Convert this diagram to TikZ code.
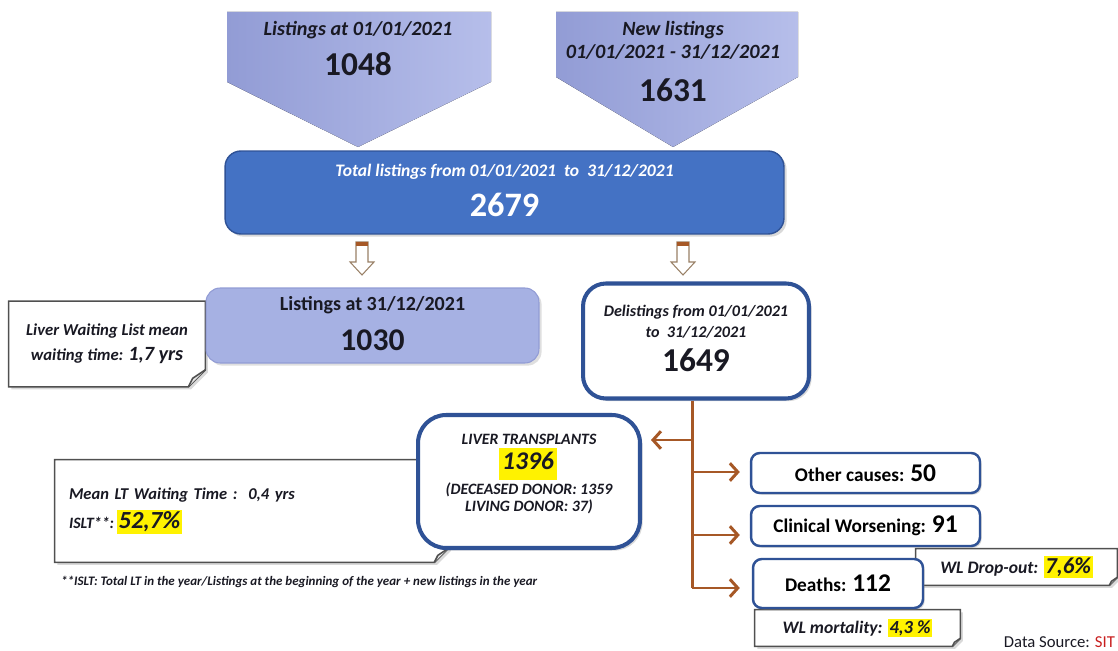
\documentclass[tikz,border=0pt]{standalone}
\usepackage{fontspec}
\setmainfont{Carlito}
\usetikzlibrary{arrows.meta,shadows,backgrounds}

\definecolor{ink}{RGB}{25,25,35}
\definecolor{lavA}{RGB}{146,156,213}
\definecolor{lavB}{RGB}{182,190,234}
\definecolor{listfill}{RGB}{166,177,227}
\definecolor{totalblue}{RGB}{68,114,196}
\definecolor{boxblue}{RGB}{47,82,150}
\definecolor{branchbrown}{RGB}{166,88,38}
\definecolor{notegray}{RGB}{80,80,80}
\definecolor{sitred}{RGB}{200,30,30}

\newcommand{\fsz}[1]{\fontsize{#1}{#1}\selectfont}
\newcommand{\hilite}[1]{{\setlength{\fboxsep}{1pt}\colorbox{yellow}{#1}}}
% outline of a note with a folded corner, drawn behind the node
\newcommand{\notefold}[2][0.3cm]{%
  \begin{pgfonlayer}{background}
    \draw[noteline, fill=white, drop shadow={shadow xshift=1.5pt, shadow yshift=-1.5pt, opacity=0.3}]
      (#2.north west) -- (#2.north east) -- ([yshift=#1]#2.south east)
      -- ([xshift=-#1]#2.south east) -- (#2.south west) -- cycle;
    \draw[noteline, fill=gray!20] ([yshift=#1]#2.south east)
      -- ([xshift=-0.75*#1, yshift=0.5*#1]#2.south east) -- ([xshift=-#1]#2.south east);
  \end{pgfonlayer}}

\tikzset{
  pentagon/.style={left color=lavA, right color=lavB},
  totalbox/.style={draw=boxblue, fill=totalblue, rounded corners=9pt, line width=0.8pt,
    drop shadow={shadow xshift=1.5pt, shadow yshift=-1.5pt, opacity=0.3}},
  listbox/.style={draw=lavA, fill=listfill, rounded corners=8pt, line width=0.6pt,
    drop shadow={shadow xshift=1.5pt, shadow yshift=-1.5pt, opacity=0.25}},
  bluebox/.style={draw=boxblue, fill=white, rounded corners=10pt, line width=2.3pt,
    drop shadow={shadow xshift=1.5pt, shadow yshift=-1.5pt, opacity=0.3}},
  causebox/.style={draw=boxblue, fill=white, rounded corners=5pt, line width=1.4pt,
    font=\bfseries\fsz{11}, drop shadow={shadow xshift=1pt, shadow yshift=-1pt, opacity=0.3}},
  notebox/.style={inner sep=0pt},
  noteline/.style={draw=notegray, line width=0.9pt},
  branch/.style={draw=branchbrown, line width=1.7pt},
  branchto/.style={branch, -{Straight Barb[length=4.5pt, width=10pt]}},
  hollow/.style={draw=gray!60!brown, fill=white, line width=0.6pt},
  label/.style={text=ink, font=\bfseries\itshape\fsz{#1}},
  number/.style={text=ink, font=\bfseries\fsz{#1}},
}

\begin{document}
\begin{tikzpicture}[x=0.02cm, y=-0.02cm]
\useasboundingbox (0,0) rectangle (1118,651);

% incoming listings
\fill[pentagon] (227,12) -- (491,12) -- (491,82) -- (358,147) -- (227,82) -- cycle;
\fill[pentagon] (556,12) -- (798,12) -- (798,77) -- (673,147) -- (556,77) -- cycle;
\node[label=11.5] (startlbl) at (358,30) {Listings at 01/01/2021};
\node[number=19] (startnum) at (358,64) {1048};
\node[label=11.5] (newlbl) at (673,30) {New listings};
\node[label=11.5] (newdates) at (673,52) {01/01/2021 - 31/12/2021};
\node[number=19] (newnum) at (673,90) {1631};

% total
\node[totalbox, minimum width=11.18cm, minimum height=1.66cm] (total) at (504.5,192.5) {};
\node[label=10, text=white] (totallbl) at (504.5,172) {Total listings from 01/01/2021\ \ to\ \ 31/12/2021};
\node[number=19.5, text=white] (totalnum) at (504.5,205) {2679};

\foreach \x in {362,683} {
  \draw[hollow] (\x-6,242) -- (\x+6,242) -- (\x+6,262) -- (\x+12,262) -- (\x,275)
    -- (\x-12,262) -- (\x-6,262) -- cycle;
  \fill[branchbrown] (\x-6,242) rectangle (\x+6,246);
}

% end of year
\node[notebox, minimum width=3.92cm, minimum height=1.7cm, align=center, text=ink,
  font=\bfseries\itshape\fontsize{9.5}{14.2}\selectfont] (waitnote) at (107,344)
  {Liver Waiting List mean\\waiting time: {\fsz{11.5}1,7 yrs}};
\notefold[0.34cm]{waitnote}
\node[listbox, minimum width=6.66cm, minimum height=1.5cm] (listend) at (372.5,325.5) {};
\node[text=ink, font=\bfseries\fsz{11.4}] (listendlbl) at (372.5,305) {Listings at 31/12/2021};
\node[number=18] (listendnum) at (372.5,340) {1030};

% delistings
\node[bluebox, rounded corners=13pt, minimum width=4.52cm, minimum height=2.3cm] (delist) at (696,341) {};
\node[label=9.2] (delistlbl) at (696,312) {Delistings from 01/01/2021};
\node[label=9.2] (delistdates) at (696,332) {to\ \ 31/12/2021};
\node[number=19] (delistnum) at (696,360) {1649};

% transplants
\node[notebox, minimum width=7.86cm, minimum height=2.04cm, text width=7.3cm, align=left, text=ink,
  font=\bfseries\itshape\fontsize{9.4}{16.4}\selectfont] (ltnote) at (251.5,511)
  {Mean LT Waiting Time :\ \ 0,4 yrs\\{\fsz{9}ISLT**:}\,{\fsz{14}\hilite{52,7\%}}};
\notefold[0.28cm]{ltnote}
\node[bluebox, rounded corners=16pt, minimum width=4.44cm, minimum height=2.66cm] (lt) at (529,481.5) {};
\node[label=9] (ltlbl) at (529,439) {LIVER TRANSPLANTS};
\node[label=14.5] (ltnum) at (528,464) {\setlength{\fboxsep}{2pt}\colorbox{yellow}{\strut 1396}};
\node[label=9] (ltdec) at (529,490) {(DECEASED DONOR: 1359};
\node[label=9] (ltliv) at (529,507) {LIVING DONOR: 37)};
\node[label=7.4, anchor=west] (footnote) at (55,582)
  {**ISLT: Total LT in the year/Listings at the beginning of the year + new listings in the year};

% causes
\node[notebox, minimum width=4.02cm, minimum height=0.72cm, label=10] (dropnote) at (1016.5,567)
  {WL Drop-out: {\fsz{13}\hilite{7,6\%}}};
\notefold[0.16cm]{dropnote}
\node[notebox, minimum width=4.1cm, minimum height=0.72cm, label=10] (mortnote) at (857.5,628)
  {WL mortality: {\fsz{10.5}\hilite{4,3 \%}}};
\notefold[0.16cm]{mortnote}
\node[causebox, minimum width=4.58cm, minimum height=0.8cm] (other) at (865.5,473)
  {Other causes: {\fsz{14.5}50}};
\node[causebox, minimum width=4.58cm, minimum height=0.8cm] (clin) at (865.5,526)
  {Clinical Worsening: {\fsz{14.5}91}};
\node[causebox, minimum width=3.4cm, minimum height=0.98cm] (deaths) at (838,583.5)
  {Deaths: {\fsz{14.5}112}};

\coordinate (blt) at (692,440);
\coordinate (bother) at (692,472);
\coordinate (bclin) at (692,535);
\coordinate (bdeath) at (692,588);
\draw[branch] (delist.south -| blt) -- (bdeath);
\draw[branchto, shorten >=0.18cm] (blt) -- (lt.east |- blt);
\draw[branchto, shorten >=0.2cm] (bother) -- (other.west |- bother);
\draw[branchto, shorten >=0.2cm] (bclin) -- (clin.west |- bclin);
\draw[branchto, shorten >=0.24cm] (bdeath) -- (deaths.west |- bdeath);

\node[anchor=south east, inner sep=1pt, text=ink, font=\fsz{9.5}] (source) at (1117,650) {Data Source: \textcolor{sitred}{SIT}};
\end{tikzpicture}
\end{document}
